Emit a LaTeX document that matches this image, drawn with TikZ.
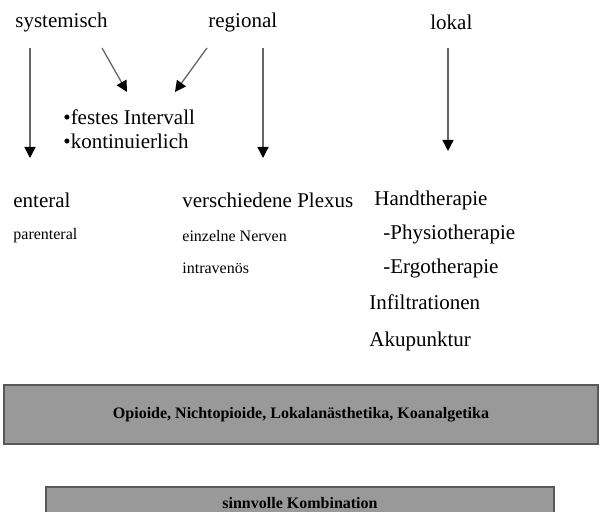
\documentclass[tikz,border=0pt]{standalone}
\usepackage{fontspec}
\setmainfont{Liberation Serif}
\usetikzlibrary{arrows.meta}

\begin{document}
\begin{tikzpicture}[x=0.5pt,y=-0.5pt,
		gross/.style={anchor=west,inner sep=0pt,font=\fontsize{10.5}{12}\selectfont},
		klein/.style={anchor=west,inner sep=0pt,font=\fontsize{8}{10}\selectfont},
		pfeil/.style={draw=black!60,line width=0.65pt,-{Triangle[length=5.5pt,width=5.5pt,color=black]}},
		balken/.style={draw=black!65,line width=1pt,fill=black!40,inner sep=0pt,font=\fontsize{8}{10}\selectfont\bfseries}]
			\useasboundingbox (0,0) rectangle (600,512);

			% Kopfzeile
			\node[gross] (sys) at (15,22) {systemisch};
			\node[gross] (reg) at (208,22) {regional};
			\node[gross] (lok) at (430,22) {lokal};

			\node[gross] (intervall) at (63,117) {•festes Intervall};
			\node[gross] (kont) at (63,141) {•kontinuierlich};

			% Spalte systemisch
			\node[gross] (ent) at (13,200) {enteral};
			\node[klein] (par) at (13,236) {parenteral};

			% Spalte regional
			\node[gross] (plexus) at (182,200) {verschiedene Plexus};
			\node[klein] (nerven) at (182,236) {einzelne Nerven};
			\node[klein] (iv) at (182,268) {intravenös};

			% Spalte lokal
			\node[gross] (hand) at (374,200) {Handtherapie};
			\node[gross] (physio) at (383,234) {-Physiotherapie};
			\node[gross] (ergo) at (383,268) {-Ergotherapie};
			\node[gross] (infil) at (369,302) {Infiltrationen};
			\node[gross] (aku) at (369,341) {Akupunktur};

			% Balken
			\node[balken,minimum width=297pt,minimum height=29.5pt] (mittel) at (301,414.5) {Opioide, Nichtopioide, Lokalanästhetika, Koanalgetika};
			\node[balken,minimum width=254pt,minimum height=16.5pt] (komb) at (300,503.5) {sinnvolle Kombination};

			\coordinate (s1) at (30,48);
			\coordinate (s2) at (30,158);
			\coordinate (r1) at (263,48);
			\coordinate (r2) at (263,158);
			\coordinate (l1) at (448,48);
			\coordinate (l2) at (448,151);
			\coordinate (d1) at (102,48);
			\coordinate (d2) at (127,92);
			\coordinate (e1) at (207,48);
			\coordinate (e2) at (175,92);

			\draw[pfeil] (s1) -- (s2);
			\draw[pfeil] (r1) -- (r2);
			\draw[pfeil] (l1) -- (l2);
			\draw[pfeil] (d1) -- (d2);
			\draw[pfeil] (e1) -- (e2);
		\end{tikzpicture}
\end{document}
